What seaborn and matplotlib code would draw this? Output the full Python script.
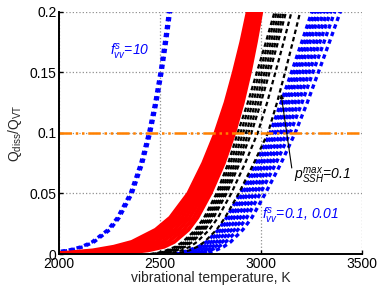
import numpy as np
import pandas as pd
import matplotlib
matplotlib.use("Agg")
import matplotlib.pyplot as plt
import seaborn as sns

# ---- data ----
# levels of Q_diss/Q_VT at which each curve's temperature (K) was read
LEVELS = [0, 0.001, 0.003, 0.006, 0.01, 0.02, 0.03, 0.05, 0.075, 0.1,
          0.125, 0.15, 0.175, 0.2, 0.23]

# f_vv^s = 10 (blue, dotted)
BLUE10_T = [
    [1850, 1941, 2041, 2110, 2163, 2241, 2288, 2352, 2404, 2443, 2474, 2500, 2522, 2542, 2563],
    [1860, 1951, 2051, 2120, 2173, 2251, 2298, 2362, 2414, 2453, 2484, 2510, 2532, 2552, 2573],
]

# red solid band
RED_T = [
    [1900, 2028, 2166, 2270, 2360, 2478, 2550, 2640, 2714, 2775, 2825, 2866, 2903, 2935, 2970],
    [1936, 2071, 2205, 2306, 2390, 2501, 2569, 2656, 2729, 2788, 2837, 2877, 2913, 2945, 2979],
    [1971, 2114, 2244, 2341, 2420, 2524, 2589, 2671, 2743, 2802, 2849, 2889, 2924, 2954, 2987],
    [2007, 2157, 2283, 2377, 2450, 2547, 2608, 2687, 2758, 2815, 2861, 2900, 2934, 2964, 2996],
    [2043, 2201, 2323, 2413, 2480, 2571, 2627, 2703, 2772, 2828, 2874, 2911, 2944, 2973, 3004],
    [2079, 2244, 2362, 2449, 2510, 2594, 2646, 2719, 2787, 2841, 2886, 2922, 2954, 2983, 3013],
    [2114, 2287, 2401, 2484, 2540, 2617, 2666, 2734, 2801, 2855, 2898, 2934, 2965, 2992, 3021],
    [2150, 2330, 2440, 2520, 2570, 2640, 2685, 2750, 2816, 2868, 2910, 2945, 2975, 3002, 3030],
]

# black dashed band (p_SSH^max = 0.1)
BLACK_T = [
    [2450, 2490, 2530, 2575, 2612, 2675, 2718, 2780, 2838, 2885, 2935, 2980, 3025, 3068, 3112],
    [2460, 2500, 2540, 2585, 2622, 2684, 2727, 2790, 2849, 2899, 2948, 2993, 3037, 3079, 3123],
    [2470, 2510, 2551, 2595, 2631, 2694, 2737, 2800, 2861, 2912, 2961, 3005, 3049, 3091, 3134],
    [2480, 2520, 2561, 2605, 2641, 2703, 2746, 2810, 2872, 2926, 2974, 3018, 3061, 3102, 3145],
    [2490, 2530, 2571, 2615, 2651, 2713, 2755, 2820, 2884, 2939, 2987, 3030, 3073, 3114, 3156],
    [2500, 2540, 2582, 2625, 2661, 2722, 2765, 2830, 2895, 2953, 3000, 3043, 3085, 3125, 3167],
    [2523, 2563, 2606, 2648, 2683, 2744, 2787, 2853, 2922, 2984, 3031, 3072, 3113, 3152, 3193],
    [2560, 2600, 2645, 2685, 2720, 2780, 2822, 2890, 2965, 3035, 3080, 3120, 3158, 3195, 3235],
]

# blue dotted band, f_vv^s = 0.1, 0.01
BLUELOW_T = [
    [2570, 2600, 2640, 2690, 2730, 2790, 2830, 2898, 2975, 3046, 3100, 3152, 3203, 3253, 3310],
    [2583, 2613, 2654, 2703, 2742, 2802, 2843, 2910, 2988, 3058, 3113, 3165, 3217, 3267, 3324],
    [2596, 2626, 2667, 2715, 2754, 2814, 2855, 2923, 3000, 3071, 3126, 3179, 3230, 3281, 3338],
    [2609, 2639, 2681, 2728, 2766, 2826, 2868, 2935, 3013, 3083, 3139, 3192, 3244, 3295, 3352],
    [2625, 2655, 2697, 2743, 2780, 2840, 2883, 2950, 3028, 3098, 3155, 3208, 3261, 3312, 3369],
    [2640, 2670, 2713, 2758, 2795, 2855, 2898, 2965, 3043, 3113, 3170, 3224, 3277, 3329, 3386],
    [2656, 2686, 2729, 2773, 2809, 2869, 2913, 2980, 3058, 3128, 3186, 3240, 3293, 3346, 3402],
    [2674, 2704, 2748, 2790, 2826, 2886, 2930, 2997, 3075, 3145, 3204, 3258, 3313, 3366, 3422],
    [2700, 2730, 2775, 2815, 2850, 2910, 2955, 3022, 3100, 3170, 3230, 3285, 3340, 3394, 3450],
]

THRESHOLD_T = [2000, 3500]
THRESHOLD_V = [0.1, 0.1]

XTICKS = [2000, 2500, 3000, 3500]
YTICKS = [0, 0.05, 0.1, 0.15, 0.2]
YTICKLABELS = ["0", "0.05", "0.1", "0.15", "0.2"]


def band_frame(curves):
    rows = []
    for i, ts in enumerate(curves):
        for t, v in zip(ts, LEVELS):
            rows.append({"T": t, "v": v, "curve": i})
    return pd.DataFrame(rows)


sns.set_style("white")
plt.rcParams["font.family"] = ["Liberation Sans", "DejaVu Sans"]
plt.rcParams["mathtext.fontset"] = "custom"
plt.rcParams["mathtext.rm"] = "Liberation Sans"
plt.rcParams["mathtext.it"] = "Liberation Sans:italic"
plt.rcParams["mathtext.bf"] = "Liberation Sans:bold"

fig = plt.figure(figsize=(3.82, 2.90), dpi=100)
ax = fig.add_axes([0.155, 0.124, 0.792, 0.836])

blue = "#0000ff"
dot = (0, (1.3, 1.1))

sns.lineplot(data=band_frame(BLUE10_T), x="T", y="v", units="curve",
             estimator=None, sort=False, color=blue, lw=2.4,
             linestyle=dot, ax=ax)
sns.lineplot(data=band_frame(BLUELOW_T), x="T", y="v", units="curve",
             estimator=None, sort=False, color=blue, lw=2.4,
             linestyle=dot, ax=ax)
sns.lineplot(data=band_frame(RED_T), x="T", y="v", units="curve",
             estimator=None, sort=False, color="#ff0000", lw=2.8,
             linestyle="-", ax=ax)
sns.lineplot(data=band_frame(BLACK_T), x="T", y="v", units="curve",
             estimator=None, sort=False, color="black", lw=1.6,
             linestyle=(0, (2.0, 1.4)), ax=ax)
sns.lineplot(x=THRESHOLD_T, y=THRESHOLD_V, color="#ff8000", lw=1.8,
             linestyle=(0, (5, 1.5, 1, 1.5, 1, 1.5)), ax=ax)

ax.set_xlim(2000, 3500)
ax.set_ylim(0, 0.2)
ax.set_xticks(XTICKS)
ax.set_yticks(YTICKS)
ax.set_yticklabels(YTICKLABELS)
ax.grid(True, linestyle=":", color="#909090", lw=0.9)
for s in ["top", "right"]:
    ax.spines[s].set_visible(False)
for s in ["left", "bottom"]:
    ax.spines[s].set_color("black")
    ax.spines[s].set_linewidth(1.4)
ax.tick_params(direction="in", length=3, width=1, labelsize=10, pad=2,
               left=True, bottom=True, top=False, right=False, colors="black")
ax.set_xlabel("vibrational temperature, K", fontsize=10, labelpad=0)
ax.set_ylabel(r"Q$_\mathrm{diss}$/Q$_\mathrm{VT}$", fontsize=10, labelpad=4)

ax.text(2252, 0.167, r"$f^{s}_{vv}$=10", color=blue, style="italic",
        fontsize=10, va="center", ha="left")
ax.text(3005, 0.031, r"$f^{s}_{vv}$=0.1, 0.01", color=blue, style="italic",
        fontsize=10, va="center", ha="left")
ax.text(3162, 0.064, r"$p^{max}_{SSH}$=0.1", color="black", style="italic",
        fontsize=10, va="center", ha="left")
ax.annotate("", xy=(3100, 0.132), xytext=(3153, 0.071),
            arrowprops=dict(arrowstyle="-|>", lw=0.8, color="black",
                            mutation_scale=6, shrinkA=0, shrinkB=0))

fig.savefig("out.png", dpi=100)
